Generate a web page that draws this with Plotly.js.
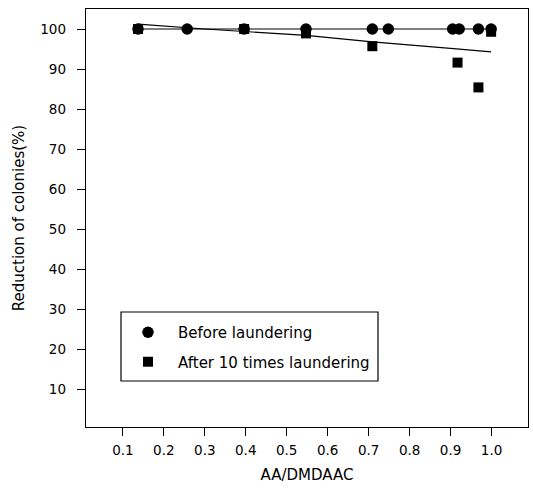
<!DOCTYPE html>
<html><head><meta charset="utf-8">
<script src="https://cdn.plot.ly/plotly-3.0.1.min.js"></script>
<style>html,body{margin:0;padding:0;background:#fff}</style>
</head><body><div id="chart" style="width:533px;height:489px"></div>
<script>
// Before laundering
var beforeX = [0.137, 0.257, 0.396, 0.547, 0.709, 0.748, 0.905, 0.921, 0.968, 0.999];
var beforeY = [100, 100, 100, 100, 100, 100, 100, 100, 100, 100];
// After 10 times laundering
var afterX = [0.137, 0.396, 0.547, 0.709, 0.917, 0.968, 0.999];
var afterY = [100, 100, 98.9, 95.7, 91.6, 85.4, 99.3];
// fitted lines
var beforeFitX = [0.137, 0.999];
var beforeFitY = [100, 100];
var afterFitX = [0.137, 0.30, 0.547, 0.709, 0.907, 0.999];
var afterFitY = [101.2, 100.0, 98.4, 96.8, 95.1, 94.3];
var xTicks = [0.1, 0.2, 0.3, 0.4, 0.5, 0.6, 0.7, 0.8, 0.9, 1.0];
var yTicks = [10, 20, 30, 40, 50, 60, 70, 80, 90, 100];

var font = {family: 'DejaVu Sans, Arial, sans-serif', size: 15, color: '#000'};
var tickFont = {family: 'DejaVu Sans, Arial, sans-serif', size: 13.5, color: '#000'};
var traces = [
  {x: beforeFitX, y: beforeFitY, mode: 'lines', line: {color: '#000', width: 1.2}, showlegend: false, hoverinfo: 'skip'},
  {x: afterFitX, y: afterFitY, mode: 'lines', line: {color: '#000', width: 1.2}, showlegend: false, hoverinfo: 'skip'},
  {x: afterX, y: afterY, mode: 'markers', name: 'After 10 times laundering', legendgroup: 'b', legendrank: 2,
   marker: {symbol: 'square', size: 10, color: '#000'}},
  {x: beforeX, y: beforeY, mode: 'markers', name: 'Before laundering', legendgroup: 'a', legendrank: 1,
   marker: {symbol: 'circle', size: 11.5, color: '#000'}}
];
var axisCommon = {showgrid: false, zeroline: false, showline: true, linecolor: '#000', linewidth: 1.3,
  mirror: true, ticks: 'outside', ticklen: 8, tickwidth: 1, tickcolor: '#000', tickfont: tickFont};
var layout = {
  width: 533, height: 489,
  margin: {l: 86, r: 5, t: 9, b: 62},
  paper_bgcolor: '#fff', plot_bgcolor: '#fff',
  font: font,
  xaxis: Object.assign({}, axisCommon, {range: [0.01, 1.089], tickvals: xTicks, tickformat: '.1f',
    ticklabelstandoff: 2, title: {text: 'AA/DMDAAC', font: font, standoff: 13}}),
  yaxis: Object.assign({}, axisCommon, {range: [0.5, 105], tickvals: yTicks, ticklabelstandoff: 8,
    title: {text: 'Reduction of colonies(%)', font: font, standoff: 12}}),
  legend: {x: (118 - 86) / 442, y: 0.2656, xanchor: 'left', yanchor: 'top', bgcolor: 'rgba(0,0,0,0)',
    borderwidth: 0, font: font, traceorder: 'grouped', tracegroupgap: 7, itemwidth: 50},
  shapes: [{type: 'rect', xref: 'paper', yref: 'paper', x0: (121-86)/442, x1: (378-86)/442,
    y0: (427-381)/418, y1: (427-312)/418, line: {color: '#000', width: 1.2}, fillcolor: 'rgba(0,0,0,0)'}],
  showlegend: true
};
Plotly.newPlot('chart', traces, layout, {displayModeBar: false, staticPlot: true});
</script></body></html>
